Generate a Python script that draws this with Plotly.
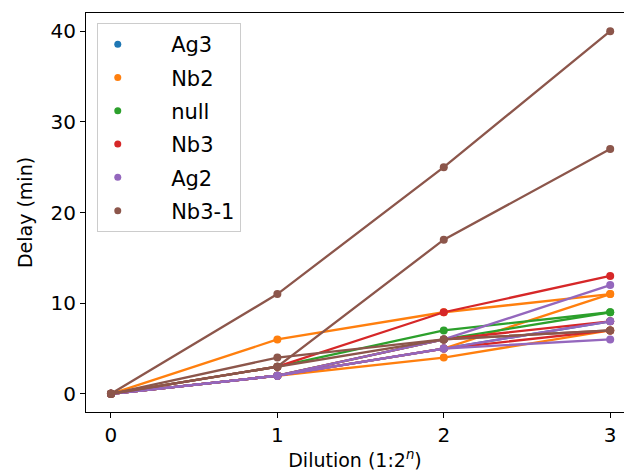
import plotly.graph_objects as go

x_vals = [0, 1, 2, 3]
categories = ["Ag3", "Nb2", "null", "Nb3", "Ag2", "Nb3-1"]
colors = ["#1f77b4", "#ff7f0e", "#2ca02c", "#d62728", "#9467bd", "#8c564b"]

ag3 = [[0, 2, 5, 8]]
nb2 = [[0, 6, 9, 11], [0, 2, 5, 11], [0, 2, 4, 7]]
null = [[0, 3, 7, 9], [0, 2, 6, 9]]
nb3 = [[0, 3, 9, 13], [0, 2, 6, 8], [0, 2, 5, 7]]
ag2 = [[0, 2, 6, 12], [0, 2, 5, 8], [0, 2, 5, 6]]
nb3_1 = [[0, 11, 25, 40], [0, 3, 17, 27], [0, 4, 6, 7], [0, 3, 6, 7]]

series = [ag3, nb2, null, nb3, ag2, nb3_1]

fig = go.Figure()
for name, col, reps in zip(categories, colors, series):
    for r in reps:
        fig.add_trace(go.Scatter(x=x_vals, y=r, mode="lines+markers",
                                 line=dict(color=col, width=2.3),
                                 marker=dict(color=col, size=8),
                                 showlegend=False, hoverinfo="skip"))
for i, (name, col) in enumerate(zip(categories, colors)):
    fig.add_trace(go.Scatter(x=[None], y=[None], mode="markers",
                             marker=dict(color=col, size=7),
                             name="     " + name, legendgroup="g%d" % i))

font = "DejaVu Sans, sans-serif"
fig.update_layout(
    width=624, height=472,
    margin=dict(l=86, r=0, t=13, b=60),
    plot_bgcolor="white", paper_bgcolor="white",
    font=dict(family=font, size=20, color="black"),
    showlegend=True,
    legend=dict(x=0.02, y=0.975, xanchor="left", yanchor="top",
                bgcolor="rgba(255,255,255,0.8)", bordercolor="#cccccc", borderwidth=1,
                font=dict(size=21), tracegroupgap=3, itemwidth=30),
    xaxis=dict(range=[-0.15, 3.083], tickmode="array", tickvals=[0, 1, 2, 3],
               ticktext=["0", "1", "2", "3"], tickfont=dict(size=20),
               showgrid=False, zeroline=False, showline=True, linecolor="black",
               linewidth=1.2, mirror=True, ticks="outside", ticklen=5, tickcolor="black",
               title=dict(text="Dilution (1:2<sup><i>n</i></sup>)", font=dict(size=19), standoff=7)),
    yaxis=dict(range=[-2, 42], tickmode="array", tickvals=[0, 10, 20, 30, 40],
               tickfont=dict(size=20),
               showgrid=False, zeroline=False, showline=True, linecolor="black",
               linewidth=1.2, ticks="outside", ticklen=5, tickcolor="black",
               title=dict(text="Delay (min)", font=dict(size=19), standoff=12)),
)
fig.write_html("out.html")
